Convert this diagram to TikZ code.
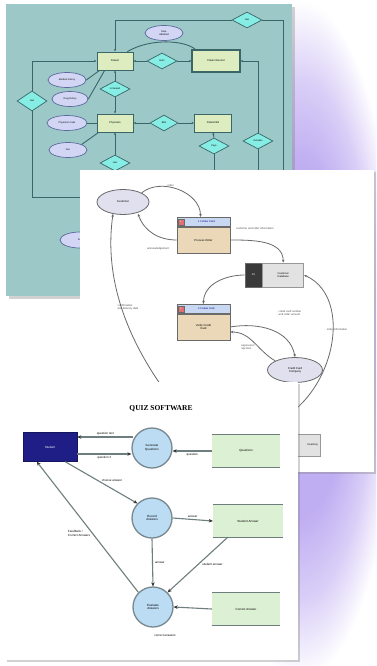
\documentclass[tikz,border=0pt]{standalone}
\usepackage{fontspec}
\setmainfont{Liberation Sans}
\newfontfamily\titlefont{Liberation Serif}
\usetikzlibrary{shapes.geometric,arrows.meta,shadows,calc}
\definecolor{lav}{HTML}{C0AEF2}
\definecolor{tealbg}{HTML}{9CC8C8}
\definecolor{erline}{HTML}{3A6668}
\definecolor{erbox}{HTML}{DDEDC0}
\definecolor{erdia}{HTML}{86EDE4}
\definecolor{erell}{HTML}{D2D6F4}
\definecolor{erellb}{HTML}{5C6A9C}
\definecolor{dfdline}{HTML}{6A6A6A}
\definecolor{custfill}{HTML}{E0E0EE}
\definecolor{tanfill}{HTML}{EAD8B8}
\definecolor{headblue}{HTML}{C8D8F2}
\definecolor{redsq}{HTML}{E07070}
\definecolor{dbdark}{HTML}{3A3A3A}
\definecolor{dblight}{HTML}{E2E2E2}
\definecolor{navy}{HTML}{1E1E86}
\definecolor{circfill}{HTML}{BCDCF4}
\definecolor{circline}{HTML}{788890}
\definecolor{storefill}{HTML}{DCF0D4}
\definecolor{quizline}{HTML}{6E7E7E}
\pgfdeclareradialshading{glowshade}{\pgfpoint{0bp}{0bp}}{color(0bp)=(lav); color(13bp)=(lav); color(19bp)=(lav!60!white); color(25bp)=(white); color(50bp)=(white)}
\tikzset{
  card/.style={fill=white, drop shadow={opacity=0.35, shadow xshift=2pt, shadow yshift=-2pt}},
  erl/.style={draw=erline, line width=0.9pt},
  erarr/.style={erl, -{Latex[length=2.2pt,width=2.2pt]}},
  erboxs/.style={draw=erline, fill=erbox, line width=0.7pt, minimum width=36pt, minimum height=18pt, inner sep=0pt, font=\fontsize{2.6}{3}\selectfont, align=center},
  erdias/.style={diamond, aspect=1.9, draw=erline, fill=erdia, line width=0.7pt, minimum width=30pt, minimum height=16pt, inner sep=0pt, font=\fontsize{2.4}{3}\selectfont},
  erells/.style={ellipse, draw=erellb, fill=erell, line width=0.7pt, minimum width=38pt, minimum height=15pt, inner sep=0pt, font=\fontsize{2.4}{2.9}\selectfont, align=center},
  dfdl/.style={draw=dfdline, line width=0.8pt, -{Stealth[length=3pt,width=2.6pt]}},
  dfdlab/.style={font=\fontsize{2.7}{3.2}\selectfont, text=black!70, align=left, inner sep=0pt},
  prochead/.style={draw=dfdline, fill=headblue, minimum width=53pt, minimum height=9pt, inner sep=0pt, line width=0.7pt, font=\fontsize{2.5}{3}\selectfont, text=blue!50!black},
  procbody/.style={draw=dfdline, fill=tanfill, minimum width=53pt, minimum height=26pt, inner sep=0pt, line width=0.7pt, font=\fontsize{2.8}{3.3}\selectfont, align=center},
  redbox/.style={fill=redsq, draw=dfdline, line width=0.3pt, minimum size=6pt, inner sep=0pt, font=\fontsize{2.4}{3}\selectfont, text=white},
  dfdell/.style={ellipse, draw=dfdline, fill=custfill, line width=0.8pt, inner sep=0pt, font=\fontsize{2.8}{3.3}\selectfont, align=center},
  circ/.style={circle, draw=circline, fill=circfill, line width=1.3pt, minimum size=40pt, inner sep=0pt, font=\fontsize{3}{3.6}\selectfont, align=center},
  store/.style={fill=storefill, minimum width=68pt, minimum height=32pt, inner sep=0pt, font=\fontsize{3}{3.6}\selectfont},
  storeline/.style={draw=quizline, line width=1.2pt},
  qarr/.style={draw=quizline, line width=1.1pt, -{Stealth[length=4pt,width=3.5pt,color=black!80]}},
  qlab/.style={font=\fontsize{3}{3.6}\selectfont, inner sep=0pt, align=left},
}
\begin{document}
\begin{tikzpicture}[x=1pt,y=-1pt]
\useasboundingbox (0,0) rectangle (376,666);
\fill[white] (0,0) rectangle (376,666);
% purple glow
\begin{scope}
\clip (0,0) rectangle (376,666);
\shade[shading=glowshade] (300,340) ellipse [x radius=100, y radius=340];
\end{scope}

% ================= TOP CARD (ER diagram) =================
\fill[tealbg, drop shadow={opacity=0.35, shadow xshift=3pt, shadow yshift=-3pt}] (6,4) rectangle (292,296);
\node[erboxs] (patient) at (115,61) {Patient};
\node[erboxs, minimum width=48pt, minimum height=22pt, double=erline, double distance=0.8pt] (record) at (216,61) {Patient Record};
\node[erdias] (dhas) at (162,61) {Gets};
\node[erdias] (dtop) at (247,20) {Has};
\node[erells] (edate) at (164,33) {Date\\Admitted};
\node[erdias, minimum height=20pt] (dleft) at (32,101) {Has};
\node[erells] (emed) at (67,80) {Medical history};
\node[erells, minimum width=36pt] (edrug) at (70,99) {Drug history};
\node[erells, minimum width=40pt] (ephys) at (67,123) {Physician Code};
\node[erells] (efee) at (68,150) {Fee};
\node[erdias] (dtreat) at (115,89) {Is treated};
\node[erboxs] (physician) at (115,123) {Physician};
\node[erdias, minimum width=28pt] (dbills) at (164,123) {Bills};
\node[erboxs, minimum width=37pt] (bill) at (213,123) {Patient Bill};
\node[erdias] (dpays) at (214,146) {Pays};
\node[erdias] (dright) at (258,141) {Includes};
\node[erdias] (dbot) at (115,163) {Has};
\node[erells, minimum width=40pt, minimum height=16pt] (esex) at (80,240) {Sex};
\coordinate (rend) at (283,185);
\coordinate (rend2) at (258,185);
\coordinate (lend) at (95,197);
\coordinate (bend) at (214,185);
\coordinate (pend) at (115,185);
\draw[erarr] (dtop.west) -| (patient.north);
\draw[erl] (dtop.east) -| (rend);
\draw[erarr] (dright.north) |- (record.east);
\draw[erl] (dright.south) -- (rend2);
\draw[erarr] (dleft.north) |- (patient.west);
\draw[erl] (dleft.south) |- (lend);
\draw[erarr] (dhas.west) -- (patient.east);
\draw[erarr] (dhas.east) -- (record.west);
\draw[erarr] (dtreat.north) -- (patient.south);
\draw[erarr] (dtreat.south) -- (physician.north);
\draw[erarr] (dbills.west) -- (physician.east);
\draw[erarr] (dbills.east) -- (bill.west);
\draw[erarr] (dpays.north) -- (bill.south);
\draw[erl] (dpays.south) -- (bend);
\draw[erarr] (dbot.north) -- (physician.south);
\draw[erl] (dbot.south) -- (pend);
\draw[erl] (emed.east) -- ($(patient.south west)+(3,0)$);
\draw[erl] (edrug.east) -- ($(patient.south west)+(8,0)$);
\draw[erl] (ephys) -- (physician);
\draw[erl] (efee.north east) -- ($(physician.south west)+(2,0)$);
\draw[erl] ($(patient.north east)+(-6,0)$) .. controls (150,38) and (185,40) .. ($(record.north west)+(4,0)$);

% ================= MIDDLE CARD (DFD) =================
\fill[card] (80,170) rectangle (374,472);
\node[dfdell, minimum width=52pt, minimum height=25pt] (cust) at (123,202) {Customer};
\node[procbody] (proc) at (203.5,240) {Process Order};
\node[prochead, anchor=south] (proch) at (proc.north) {\hspace{6pt}1.0 Order Clerk};
\node[redbox, anchor=west] (procr) at ($(proch.west)+(1,0)$) {1};
\node[draw=dfdline, fill=dbdark, minimum width=17pt, minimum height=24pt, inner sep=0pt, line width=0.7pt, font=\fontsize{2.6}{3}\selectfont, text=white!80] (dbd) at (253.5,275) {D1};
\node[draw=dfdline!70, fill=dblight, minimum width=41pt, minimum height=24pt, inner sep=0pt, line width=0.7pt, anchor=west, font=\fontsize{2.6}{3.1}\selectfont, align=center] (db) at (dbd.east) {Customer\\Database};
\node[procbody] (ver) at (203.5,327) {Verify Credit\\Card};
\node[prochead, anchor=south] (verh) at (ver.north) {\hspace{6pt}2.0 Sales Clerk};
\node[redbox, anchor=west] (verr) at ($(verh.west)+(1,0)$) {2};
\node[dfdell, minimum width=55pt, minimum height=25pt] (ccc) at (295,370) {Credit Card\\Company};
\node[procbody] (ship) at (203.5,405) {Ship Order};
\node[prochead, anchor=south] (shiph) at (ship.north) {\hspace{6pt}3.0 Shipping};
\node[redbox, anchor=west] (shipr) at ($(shiph.west)+(1,0)$) {3};
\node[draw=dfdline!70, fill=dblight, minimum width=60pt, minimum height=22pt, inner sep=0pt, line width=0.7pt, font=\fontsize{2.6}{3.1}\selectfont, align=right, text width=56pt] (inv) at (290,445) {Inventory};
\coordinate (ostart) at (250,430);
\coordinate (cstart) at (168,395);
\draw[dfdl] (cust.north east) to[out=40,in=90] node[pos=0.4, above, dfdlab] {order} ($(proch.north)+(-3,0)$);
\draw[dfdl] (proc.west) to[out=180,in=-70] ($(cust.south)+(15,-1)$);
\node[dfdlab] (lack) at (158,249) {acknowledgement};
\draw[dfdl] (proc.east) to[out=0,in=90] (db.north);
\node[dfdlab, anchor=west] (lcoi) at (236,229) {customer and order information};
\draw[dfdl] (dbd.west) to[out=180,in=90] (verh.north);
\draw[dfdl] (ver.east) to[out=10,in=100] (ccc.north);
\node[dfdlab] (lccn) at (290,313) {credit card number\\and order amount};
\draw[dfdl] (ccc.north west) to[out=150,in=0] ($(ver.east)+(0,5)$);
\node[dfdlab] (lapp) at (248,347) {approval or\\rejection};
\draw[dfdl] (ostart) .. controls (330,420) and (360,300) .. (db.east);
\node[dfdlab] (loi) at (337,330) {order information};
\draw[dfdl] (cstart) .. controls (120,330) and (105,270) .. ($(cust.south)+(-10,-1)$);
\node[dfdlab] (lconf) at (128,307) {confirmation\\and delivery date};

% ================= BOTTOM CARD (Quiz) =================
\fill[card] (5,382) rectangle (298,660);
\node[font=\titlefont\bfseries\fontsize{7.5}{9}\selectfont] (title) at (161,409) {QUIZ SOFTWARE};
\node[fill=navy, draw=navy!70!black, minimum width=54pt, minimum height=29pt, inner sep=0pt, font=\fontsize{3}{3.6}\selectfont, text=white] (student) at (50,447) {Student};
\node[circ] (gen) at (152,448) {Generate\\Questions};
\node[circ] (rec) at (152,518) {Record\\Answers};
\node[circ] (eval) at (153,607) {Evaluate\\Answers};
\node[store] (qs) at (246,451) {Questions};
\node[store, minimum width=70pt] (sa) at (248,521) {Student Answer};
\node[store] (ca) at (246,609) {Correct Answer};
\foreach \n in {qs,sa,ca} {
  \draw[storeline] (\n.north west) -- (\n.north east);
  \draw[storeline] (\n.south west) -- (\n.south east);
}
\draw[qarr] ($(gen.west)+(2,-11)$) -- node[above=1pt, qlab] {question text} ($(student.east)+(0,-10)$);
\draw[qarr] ($(student.east)+(0,7)$) -- node[below=1.5pt, qlab] {question \#} ($(gen.west)+(0,6)$);
\draw[qarr] (qs.west) -- node[below=2pt, qlab] {question} ($(gen.east)+(0,3)$);
\draw[qarr] ($(student.south east)+(-12,0)$) -- node[pos=0.5, above right=0pt, qlab] {choose answer} (rec.north west);
\draw[qarr] (rec.east) -- node[above=1pt, qlab] {answer} (sa.west);
\draw[qarr] (rec.south) -- node[right=2pt, qlab] {answer} (eval.north);
\draw[qarr] ($(sa.south west)+(15,0)$) -- node[right=4pt, qlab] {student answer} (eval.north east);
\draw[qarr] (ca.west) -- (eval.east);
\draw[qarr] (eval.north west) -- node[pos=0.45, left=2pt, qlab] {Feedback /\\Correct Answers} ($(student.south west)+(14,0)$);
\node[qlab] (lcorr) at (165,636) {correct answers};
\end{tikzpicture}
\end{document}
